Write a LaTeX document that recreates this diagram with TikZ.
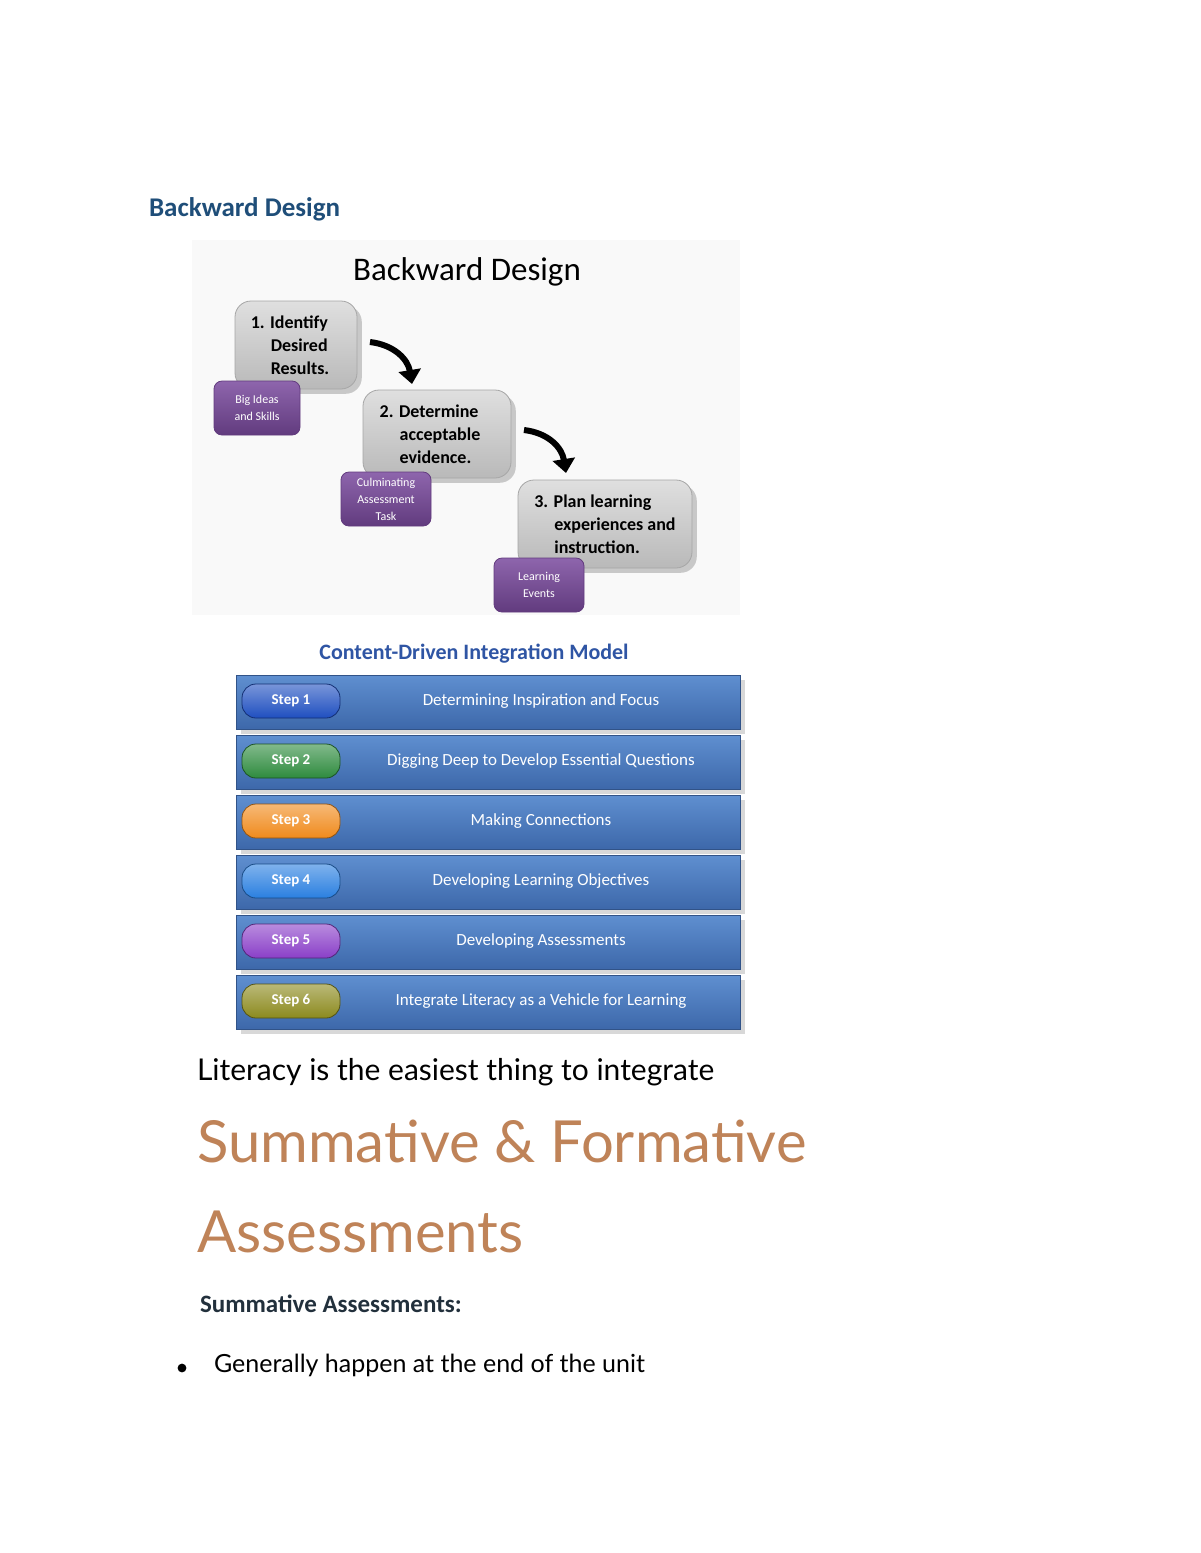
\documentclass[tikz,border=0pt]{standalone}
\usepackage{fontspec}
\setmainfont{Carlito}
\newfontfamily\latofont{Lato}
\usetikzlibrary{arrows.meta,shadows}
\definecolor{hblue}{HTML}{1F4E79}
\definecolor{cblue}{HTML}{2F55A4}
\definecolor{rowtop}{HTML}{5F8FD0}
\definecolor{rowbot}{HTML}{3D68AA}
\definecolor{purp}{HTML}{7A4A9E}
\definecolor{brown}{HTML}{BF8358}
\definecolor{darkt}{HTML}{22303C}
\definecolor{sA}{HTML}{1F4FC0}
\definecolor{sB}{HTML}{2E8B3E}
\definecolor{sC}{HTML}{F08A1C}
\definecolor{sD}{HTML}{2A7FE0}
\definecolor{sE}{HTML}{8A3FC8}
\definecolor{sF}{HTML}{8C8A1E}
\tikzset{
 gbox/.style={draw=gray!70,rounded corners=8pt,top color=gray!25,bottom color=gray!55,drop shadow={opacity=0.4},inner sep=0pt},
 gtext/.style={align=left,font=\fontsize{9}{11.5}\selectfont\bfseries},
 pbox/.style={draw=purp!80!black,rounded corners=4pt,top color=purp!85,bottom color=purp!80!black,text=white,align=center,font=\fontsize{6}{8.5}\selectfont,inner sep=0pt},
 rowbox/.style={draw=rowbot!80!black,top color=rowtop,bottom color=rowbot,inner sep=0pt,drop shadow={opacity=0.3}},
 pill/.style={rounded corners=7pt,draw=#1!60!black,top color=#1!60!white,bottom color=#1,text=white,font=\fontsize{7.5}{9}\selectfont\bfseries,minimum width=49pt,minimum height=17pt,inner sep=0pt},
 rowtext/.style={text=white,font=\fontsize{8.5}{10}\selectfont},
 bigarrow/.style={line width=3pt,-{Triangle[length=7pt,width=11pt]}}
}
\begin{document}
\begin{tikzpicture}[x=0.5pt,y=-0.5pt]
\useasboundingbox (0,0) rectangle (1200,1553);
\fill[white] (0,0) rectangle (1200,1553);
\node[anchor=west,text=hblue,font=\fontsize{13.5}{16}\selectfont\bfseries] (h1) at (142,209) {Backward Design};
\fill[gray!5] (192,240) rectangle (740,615);
\node[font=\fontsize{16.5}{19}\selectfont] (t1) at (467,272) {Backward Design};
\node[gbox,minimum width=61pt,minimum height=44pt] (b1) at (296,345) {};
\node[gtext] (b1t) at (290,345) {1. Identify\\\hspace{10pt}Desired\\\hspace{10pt}Results.};
\node[gbox,minimum width=74pt,minimum height=44pt] (b2) at (437,434) {};
\node[gtext] (b2t) at (430,434) {2. Determine\\\hspace{10pt}acceptable\\\hspace{10pt}evidence.};
\node[gbox,minimum width=87pt,minimum height=44pt] (b3) at (605,524) {};
\node[gtext] (b3t) at (605,524) {3. Plan learning\\\hspace{10pt}experiences and\\\hspace{10pt}instruction.};
\node[pbox,minimum width=43pt,minimum height=27pt] (p1) at (257,408) {Big Ideas\\and Skills};
\node[pbox,minimum width=45pt,minimum height=27pt] (p2) at (386,499) {Culminating\\Assessment\\Task};
\node[pbox,minimum width=45pt,minimum height=27pt] (p3) at (539,585) {Learning\\Events};
\coordinate (a1s) at (370,342); \coordinate (a1e) at (412,384);
\coordinate (a2s) at (524,430); \coordinate (a2e) at (566,473);
\draw[bigarrow] (a1s) .. controls (395,345) and (408,360) .. (a1e);
\draw[bigarrow] (a2s) .. controls (549,433) and (562,448) .. (a2e);
\node[text=cblue,font=\fontsize{11}{13}\selectfont\bfseries] (mt) at (474,654) {Content-Driven Integration Model};
\foreach \i/\c/\t in {1/sA/Determining Inspiration and Focus,2/sB/Digging Deep to Develop Essential Questions,3/sC/Making Connections,4/sD/Developing Learning Objectives,5/sE/Developing Assessments,6/sF/Integrate Literacy as a Vehicle for Learning}{
 \pgfmathsetmacro\yy{702+60*(\i-1)}
 \node[rowbox,minimum width=252pt,minimum height=27pt] (r\i) at (488,\yy) {};
 \node[pill=\c] (s\i) at (291,\yy-1) {Step \i};
 \node[rowtext] (rt\i) at (541,\yy-1) {\t};
}
\node[anchor=west,font=\latofont\fontsize{15}{18}\selectfont] (lit) at (190,1072) {Literacy is the easiest thing to integrate};
\node[anchor=west,text=brown,font=\latofont\fontsize{29}{34}\selectfont] (sf) at (190,1141) {Summative \& Formative};
\node[anchor=west,text=brown,font=\latofont\fontsize{29}{34}\selectfont] (as) at (190,1232) {Assessments};
\node[anchor=west,text=darkt,font=\fontsize{12.5}{15}\selectfont\bfseries] (sa) at (193,1304) {Summative Assessments:};
\fill (182,1368) circle (2.2pt);
\node[anchor=west,font=\latofont\fontsize{12.5}{15}\selectfont] (g) at (207,1365) {Generally happen at the end of the unit};
\end{tikzpicture}
\end{document}
